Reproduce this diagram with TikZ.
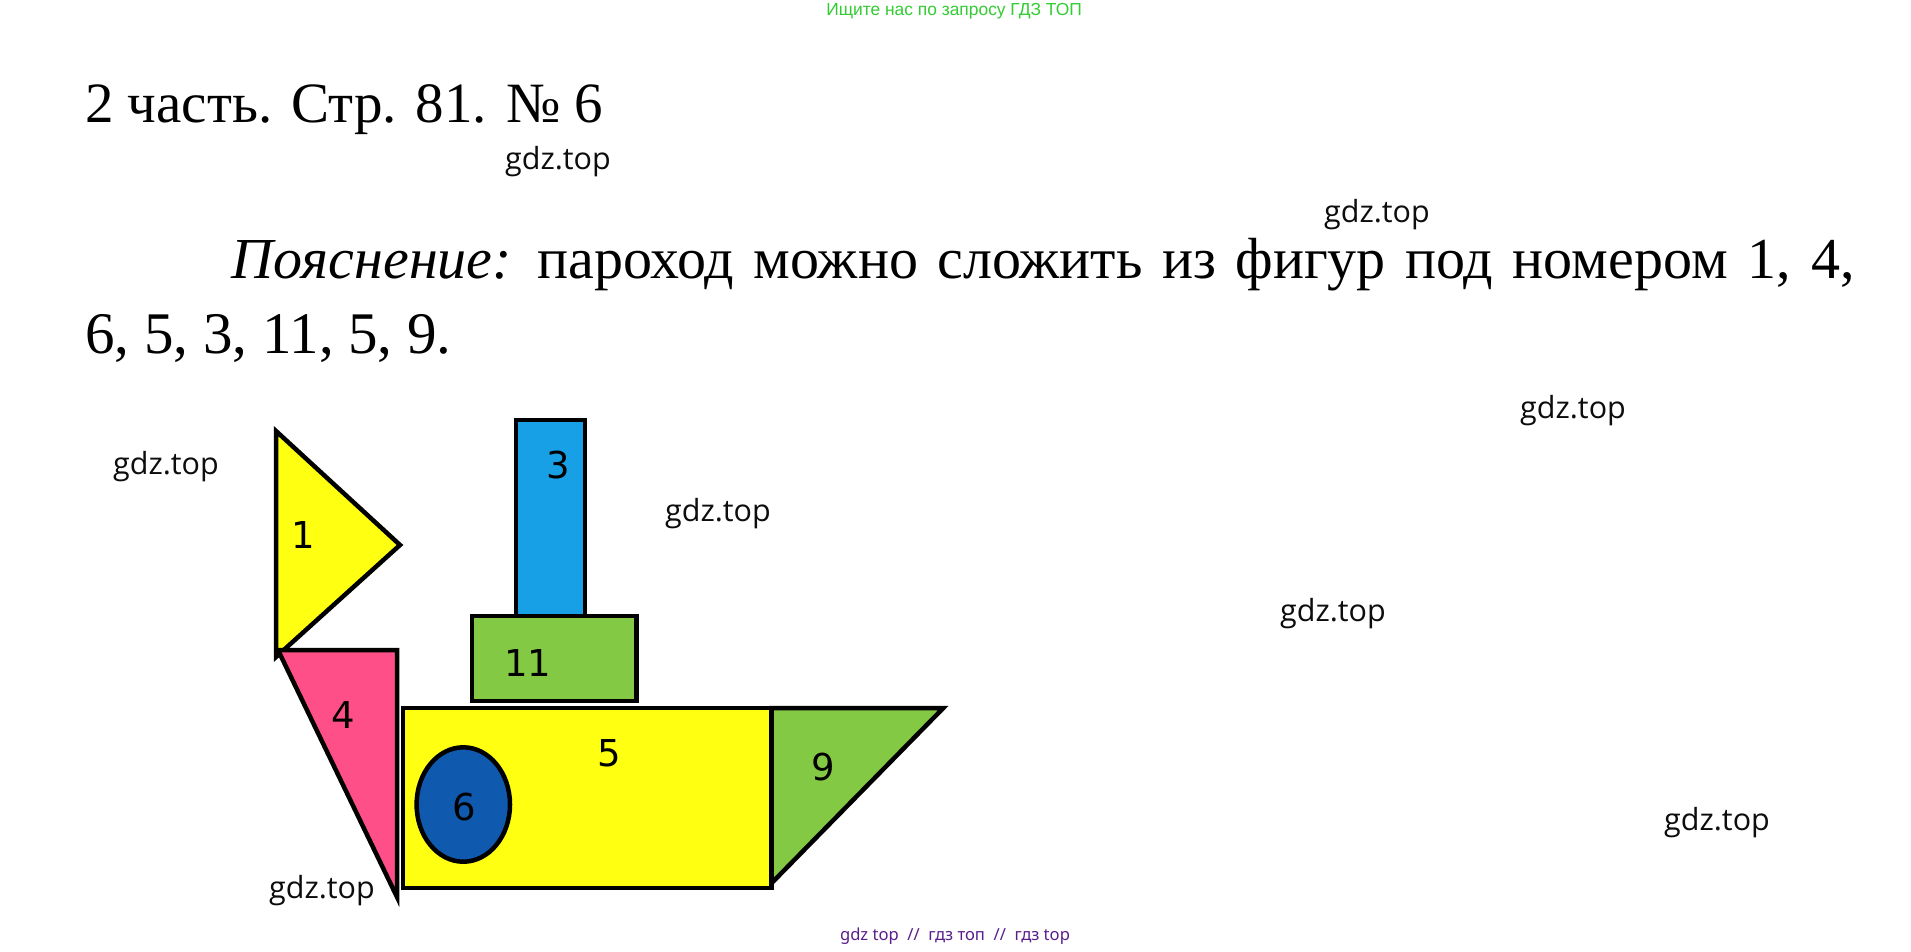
\documentclass[tikz,border=0pt]{standalone}
\usepackage{fontspec}
\setmainfont{Liberation Serif}
\newfontfamily\wmfont{Open Sans}
\newfontfamily\numfont{DejaVu Sans}
\newfontfamily\arialfont{Liberation Sans}
\newfontfamily\notofont{Noto Sans}
\definecolor{shipyellow}{HTML}{FFFF12}
\definecolor{shippink}{HTML}{FF4F88}
\definecolor{shipblue}{HTML}{17A0E6}
\definecolor{shipgreen}{HTML}{84C943}
\definecolor{shipnavy}{HTML}{0F5AAE}
\definecolor{wmgreen}{HTML}{33CC33}
\definecolor{wmpurple}{HTML}{5A1E8C}
\tikzset{
  piece/.style={draw=black, line width=4.5pt},
  numlabel/.style={font=\numfont\fontsize{37}{37}\selectfont, text=black, inner sep=0},
  wm/.style={font=\wmfont\fontsize{30.5}{30.5}\selectfont, text=black!95, inner sep=0},
  bigtext/.style={font=\fontsize{58}{58}\selectfont, anchor=base west, inner sep=0},
}
\begin{document}
\begin{tikzpicture}[x=1pt,y=-1pt]
\useasboundingbox (0,0) rectangle (1911,951);
\fill[white] (0,0) rectangle (1911,951);
% header / footer
\node[font=\arialfont\fontsize{17.4}{17.4}\selectfont, text=wmgreen, inner sep=0] (hdr) at (954,11) {Ищите нас по запросу ГДЗ ТОП};
\node[font=\notofont\fontsize{16.6}{16.6}\selectfont, text=wmpurple, inner sep=0] (ftr) at (955,936) {gdz top\ \ //\ \ гдз топ\ \ //\ \ гдз top};
% texts
\node[bigtext] (title) at (85,122) {\fontsize{57}{57}\selectfont 2 часть. Стр. 81. № 6};
\node[bigtext] (expl) at (231.6,278) {\makebox[1623pt][s]{\textit{Пояснение:}\hspace{-4pt} пароход можно сложить из фигур под номером 1, 4,}};
\node[bigtext] (expl2) at (85,353) {\fontsize{59}{59}\selectfont 6, 5, 3, 11, 5, 9.};
% ship pieces
\filldraw[piece, fill=shipyellow] (276,431) -- (400,545) -- (276,657) -- cycle;
\filldraw[piece, fill=shippink] (278,650) -- (397,650) -- (397,897) -- cycle;
\filldraw[piece, fill=shipblue] (516,420) rectangle (585,616);
\filldraw[piece, fill=shipgreen] (472,616) rectangle (636.5,701);
\filldraw[piece, fill=shipyellow] (403,708) rectangle (771.7,888);
\filldraw[piece, fill=shipgreen] (771.7,708) -- (943.3,708) -- (771.7,883) -- cycle;
\filldraw[piece, fill=shipnavy] (463.3,804.5) ellipse [x radius=46.7, y radius=57.2];
% labels
\node[numlabel] (l1) at (303,535) {1};
\node[numlabel] (l3) at (558,465) {3};
\node[numlabel] (l11) at (528,663) {11};
\node[numlabel] (l4) at (343,715) {4};
\node[numlabel] (l6) at (464,807) {6};
\node[numlabel] (l5) at (609,753) {5};
\node[numlabel] (l9) at (823,767) {9};
% watermarks
\node[wm] (w1) at (558,162) {gdz.top};
\node[wm] (w2) at (1377,214.5) {gdz.top};
\node[wm] (w3) at (1573,411) {gdz.top};
\node[wm] (w4) at (166,467) {gdz.top};
\node[wm] (w5) at (718,514) {gdz.top};
\node[wm] (w6) at (1333,614) {gdz.top};
\node[wm] (w7) at (1717,823) {gdz.top};
\node[wm] (w8) at (322,891) {gdz.top};
\end{tikzpicture}
\end{document}
